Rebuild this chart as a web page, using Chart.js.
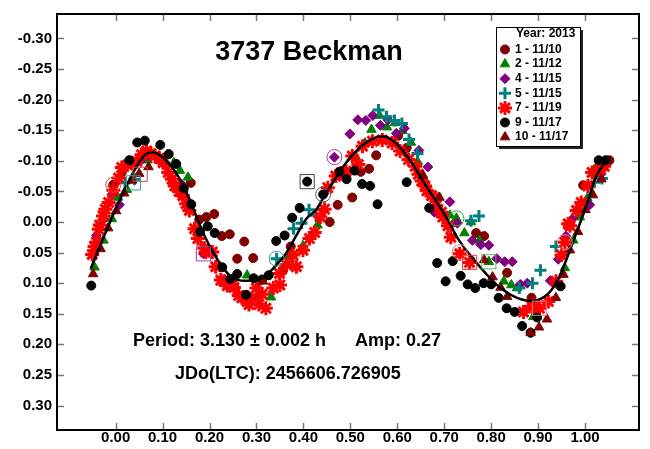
<!DOCTYPE html>
<html>
<head>
<meta charset="utf-8">
<title>3737 Beckman</title>
<script src="https://cdn.jsdelivr.net/npm/chart.js@4.4.1/dist/chart.umd.min.js"></script>
<style>
  html, body { margin: 0; padding: 0; background: #fff; }
  canvas { display: block; }
</style>
</head>
<body>
<canvas id="lc" width="650" height="449"></canvas>
<script>
// phased lightcurve, one array per observing session: [phase, magnitude]
const legendTitle = "Year: 2013";
const sessionLabels = ["1 - 11/10", "2 - 11/12", "4 - 11/15", "5 - 11/15", "7 - 11/19", "9 - 11/17", "10 - 11/17"];

const xTicks = [0.00, 0.10, 0.20, 0.30, 0.40, 0.50, 0.60, 0.70, 0.80, 0.90, 1.00];
const yTicks = [-0.30, -0.25, -0.20, -0.15, -0.10, -0.05, 0.00, 0.05, 0.10, 0.15, 0.20, 0.25, 0.30];

const session1 = [[-0.005,-0.061],[0.013,-0.081],[0.040,-0.098],[0.160,-0.064],[0.178,-0.004],[0.193,-0.008],[0.210,-0.013],
  [0.226,0.023],[0.243,0.020],[0.259,0.060],[0.274,0.032],[0.293,0.059],[0.356,0.080],[0.373,0.040],[0.456,0.000],
  [0.473,-0.028],[0.504,-0.040],[0.522,-0.082],[0.540,-0.087],[0.555,-0.109],[0.602,-0.141],[0.620,-0.121],
  [0.768,0.018],[0.785,0.023],[0.834,0.083],[0.886,0.124],[0.996,-0.060],[1.052,-0.101]];

const session2 = [[-0.045,0.074],[-0.026,0.030],[-0.008,-0.005],[0.005,-0.040],[0.024,-0.053],[0.068,-0.101],[0.103,-0.103],
  [0.124,-0.097],[0.137,-0.084],[0.154,-0.073],[0.280,0.087],[0.300,0.123],[0.331,0.123],[0.366,0.057],[0.399,0.039],
  [0.430,0.005],[0.512,-0.106],[0.531,-0.129],[0.545,-0.151],[0.562,-0.174],[0.578,-0.155],[0.595,-0.162],[0.611,-0.149],
  [0.629,-0.130],[0.644,-0.098],[0.659,-0.067],[0.712,-0.011],[0.726,-0.006],[0.743,0.018],[0.757,0.000],[0.775,0.030],
  [0.795,0.065],[0.827,0.097],[0.843,0.103],[0.855,0.108],[0.890,0.155],[0.957,0.075],[0.975,0.030],[0.989,-0.008],
  [1.005,-0.039],[1.020,-0.086]];

const session4 = [[-0.041,0.022],[-0.025,-0.005],[-0.008,-0.045],[0.008,-0.028],[0.056,-0.102],[0.073,-0.108],[0.107,-0.091],
  [0.124,-0.062],[0.140,-0.062],[0.155,-0.020],[0.187,0.052],[0.466,-0.106],[0.499,-0.144],[0.516,-0.167],[0.533,-0.166],
  [0.548,-0.174],[0.564,-0.158],[0.580,-0.167],[0.598,-0.145],[0.615,-0.153],[0.646,-0.117],[0.665,-0.090],[0.679,-0.016],
  [0.712,-0.033],[0.728,0.002],[0.760,0.030],[0.778,0.037],[0.795,0.038],[0.812,0.060],[0.829,0.065],[0.845,0.065],
  [0.862,0.102],[0.877,0.100],[0.926,0.096],[0.943,0.061],[0.959,0.023],[0.973,-0.005],[1.010,-0.028],[1.034,-0.078]];

const session5 = [[0.020,-0.064],[0.040,-0.070],[0.343,0.060],[0.379,0.011],[0.396,0.002],[0.412,-0.020],[0.427,-0.011],
  [0.560,-0.183],[0.577,-0.172],[0.594,-0.166],[0.610,-0.161],[0.625,-0.135],[0.643,-0.112],[0.680,-0.040],[0.757,-0.002],
  [0.774,-0.010],[0.860,0.108],[0.888,0.100],[0.905,0.079],[0.938,0.040],[1.020,-0.065],[1.036,-0.071]];

const session7 = [[-0.050,0.053],[-0.045,0.040],[-0.041,0.033],[-0.036,0.012],[-0.034,0.005],[-0.027,-0.010],[-0.022,-0.021],
  [-0.015,-0.032],[-0.005,-0.052],[0.006,-0.072],[0.013,-0.089],[0.025,-0.093],[0.035,-0.097],[0.045,-0.099],[0.055,-0.110],
  [0.066,-0.116],[0.075,-0.112],[0.084,-0.108],[0.093,-0.104],[0.101,-0.097],[0.112,-0.081],[0.120,-0.070],[0.126,-0.059],
  [0.135,-0.050],[0.143,-0.043],[0.150,-0.030],[0.157,-0.019],[0.168,0.011],[0.175,0.027],[0.189,0.043],[0.192,0.049],
  [0.206,0.049],[0.213,0.073],[0.224,0.095],[0.231,0.097],[0.238,0.104],[0.248,0.103],[0.252,0.107],[0.262,0.120],
  [0.269,0.124],[0.280,0.130],[0.284,0.135],[0.291,0.124],[0.300,0.108],[0.305,0.135],[0.312,0.118],[0.320,0.141],
  [0.336,0.108],[0.349,0.084],[0.350,0.103],[0.364,0.070],[0.378,0.054],[0.385,0.073],[0.399,0.046],[0.413,0.027],
  [0.424,0.017],[0.436,-0.008],[0.445,-0.021],[0.452,-0.056],[0.469,-0.075],[0.480,-0.080],[0.491,-0.083],[0.504,-0.108],
  [0.517,-0.094],[0.526,-0.124],[0.547,-0.132],[0.568,-0.134],[0.589,-0.129],[0.606,-0.116],[0.624,-0.102],[0.638,-0.091],
  [0.645,-0.078],[0.652,-0.067],[0.659,-0.059],[0.663,-0.051],[0.673,-0.043],[0.680,-0.040],[0.683,-0.027],[0.694,-0.016],
  [0.697,-0.008],[0.708,0.006],[0.714,0.025],[0.733,0.052],[0.754,0.066],[0.869,0.147],[0.887,0.138],[0.891,0.136],
  [0.903,0.141],[0.922,0.130],[0.938,0.097],[0.950,0.054],[0.957,0.033],[0.964,0.003],[0.968,0.006],[0.982,-0.019],
  [0.992,-0.032],[1.006,-0.059],[1.015,-0.081],[1.031,-0.086],[1.041,-0.091]];

const session9 = [[-0.052,0.104],[0.029,-0.101],[0.046,-0.130],[0.062,-0.133],[0.095,-0.126],[0.113,-0.111],[0.129,-0.095],
  [0.145,-0.055],[0.161,-0.029],[0.180,0.016],[0.196,0.007],[0.211,0.018],[0.227,0.074],[0.244,0.093],[0.259,0.085],
  [0.278,0.119],[0.294,0.092],[0.312,0.094],[0.326,0.087],[0.342,0.031],[0.360,0.022],[0.376,-0.007],[0.392,-0.023],
  [0.408,-0.066],[0.442,-0.045],[0.477,-0.082],[0.492,-0.070],[0.509,-0.084],[0.525,-0.062],[0.542,-0.059],[0.558,-0.029],
  [0.620,-0.065],[0.668,-0.023],[0.685,0.067],[0.703,0.097],[0.718,0.064],[0.735,0.088],[0.750,0.102],[0.766,0.108],
  [0.784,0.100],[0.800,0.102],[0.816,0.124],[0.833,0.141],[0.850,0.147],[0.866,0.170],[0.884,0.181],[0.898,0.156],
  [0.948,0.105],[1.029,-0.101],[1.044,-0.101]];

const session10 = [[-0.048,0.085],[-0.032,0.044],[-0.016,0.010],[0.001,-0.018],[0.018,-0.047],[0.035,-0.068],[0.050,-0.079],
  [0.070,-0.090],[0.314,0.097],[0.655,-0.076],[0.690,-0.040],[0.785,0.062],[0.803,0.090],[0.820,0.107],[0.834,0.122],
  [0.884,0.181],[0.902,0.172],[0.919,0.159],[0.938,0.124],[0.954,0.086],[0.968,0.046],[0.985,0.016],[1.001,-0.020],
  [1.017,-0.044],[1.035,-0.070]];

// Fourier fit
const fitCurve = [[-0.053,0.076],[-0.036,0.044],[-0.018,0.011],[0.000,-0.021],[0.020,-0.054],[0.041,-0.086],[0.063,-0.110],
  [0.080,-0.114],[0.097,-0.108],[0.115,-0.094],[0.133,-0.075],[0.154,-0.043],[0.171,-0.011],[0.189,0.022],[0.208,0.050],
  [0.227,0.073],[0.245,0.089],[0.262,0.095],[0.280,0.096],[0.296,0.095],[0.312,0.092],[0.329,0.081],[0.345,0.068],
  [0.364,0.050],[0.385,0.022],[0.406,-0.005],[0.427,-0.020],[0.448,-0.047],[0.469,-0.072],[0.491,-0.097],[0.519,-0.121],
  [0.547,-0.136],[0.570,-0.140],[0.589,-0.134],[0.610,-0.118],[0.631,-0.097],[0.652,-0.070],[0.680,-0.037],[0.708,-0.003],
  [0.730,0.028],[0.750,0.049],[0.785,0.081],[0.820,0.108],[0.855,0.124],[0.891,0.129],[0.919,0.119],[0.940,0.097],
  [0.961,0.060],[0.982,0.017],[1.003,-0.027],[1.024,-0.075],[1.044,-0.099]];

// first/last points of sessions, marked with open circles and boxes
const ringPoints = [[-0.005,-0.061],[0.343,0.060],[0.442,-0.045],[0.466,-0.106],[0.726,-0.006],[0.733,0.049],[0.957,0.033]];
const ringColors = ["#b05050", "#3a9a9a", "#555555", "#a040a0", "#40a040", "#f08080", "#f08080"];
const boxPoints = [[0.038,-0.064],[0.052,-0.078],[0.187,0.052],[0.408,-0.066],[0.754,0.066],[0.795,0.065],[0.903,0.141]];
const boxColors = ["#3a9a9a", "#b05050", "#a040a0", "#444444", "#ff3030", "#60b060", "#f08080"];

const FONT = "'Liberation Sans', Arial, sans-serif";

const styles = [
  { data: session1,  pointStyle: "circle",   pointRadius: 4.5, color: "#800000", borderWidth: 1 },
  { data: session2,  pointStyle: "triangle", pointRadius: 5.5, color: "#008000", borderWidth: 1 },
  { data: session4,  pointStyle: "rectRot",  pointRadius: 5,   color: "#800080", borderWidth: 1 },
  { data: session5,  pointStyle: "cross",    pointRadius: 6,   color: "#008080", borderWidth: 3 },
  { data: session7,  pointStyle: "star",     pointRadius: 7,   color: "#ff0000", borderWidth: 3 },
  { data: session9,  pointStyle: "circle",   pointRadius: 4.5, color: "#000000", borderWidth: 1 },
  { data: session10, pointStyle: "triangle", pointRadius: 5.5, color: "#800000", borderWidth: 1 }
];

const datasets = styles.map((s, i) => ({
  label: sessionLabels[i],
  data: s.data,
  pointStyle: s.pointStyle,
  pointRadius: s.pointRadius,
  pointBorderWidth: s.borderWidth,
  backgroundColor: s.color,
  borderColor: s.color,
  showLine: false,
  order: 20 - i
}));

datasets.push({
  label: "fit",
  data: fitCurve,
  showLine: true,
  pointRadius: 0,
  borderColor: "#000",
  borderWidth: 2.5,
  tension: 0.35,
  order: 2
});
datasets.push({
  label: "rings",
  data: ringPoints,
  pointStyle: "circle",
  pointRadius: 7.5,
  pointBorderWidth: 1,
  backgroundColor: "rgba(0,0,0,0)",
  borderColor: ringColors,
  showLine: false,
  order: 1
});
datasets.push({
  label: "boxes",
  data: boxPoints,
  pointStyle: "rect",
  pointRadius: 10,
  pointBorderWidth: 1,
  backgroundColor: "rgba(0,0,0,0)",
  borderColor: boxColors,
  showLine: false,
  order: 0
});

const decorations = {
  id: "decorations",
  afterDraw(chart) {
    const ctx = chart.ctx;
    const a = chart.chartArea;
    const xs = chart.scales.x, ys = chart.scales.y;
    ctx.save();

    // inward tick marks on all four sides
    ctx.strokeStyle = "#777";
    ctx.lineWidth = 1.5;
    ctx.beginPath();
    xTicks.forEach(v => {
      const px = Math.round(xs.getPixelForValue(v)) + 0.5;
      ctx.moveTo(px, a.bottom); ctx.lineTo(px, a.bottom - 7);
      ctx.moveTo(px, a.top); ctx.lineTo(px, a.top + 7);
    });
    yTicks.forEach(v => {
      const py = Math.round(ys.getPixelForValue(v)) + 0.5;
      ctx.moveTo(a.left, py); ctx.lineTo(a.left + 7, py);
      ctx.moveTo(a.right, py); ctx.lineTo(a.right - 7, py);
    });
    ctx.stroke();

    // frame
    ctx.strokeStyle = "#000";
    ctx.lineWidth = 2;
    ctx.strokeRect(a.left, a.top, a.right - a.left, a.bottom - a.top);

    // titles
    ctx.fillStyle = "#000";
    ctx.textBaseline = "middle";
    ctx.textAlign = "center";
    ctx.font = "bold 27px " + FONT;
    ctx.fillText("3737 Beckman", 309, 53);
    ctx.textAlign = "left";
    ctx.font = "bold 18px " + FONT;
    ctx.fillText("Period: 3.130 \u00b1 0.002 h", 133, 341);
    ctx.fillText("Amp: 0.27", 355, 341);
    ctx.fillText("JDo(LTC): 2456606.726905", 175, 374);

    // legend with drop shadow
    const L = 496, T = 27, R = 580, B = 146;
    ctx.fillStyle = "#222";
    ctx.fillRect(L + 3, T + 3, R - L, B - T);
    ctx.fillStyle = "#fff";
    ctx.fillRect(L, T, R - L, B - T);
    ctx.strokeStyle = "#000";
    ctx.lineWidth = 1;
    ctx.strokeRect(L + 0.5, T + 0.5, R - L, B - T);

    ctx.fillStyle = "#000";
    ctx.font = "bold 12px " + FONT;
    ctx.fillText(legendTitle, 516, 34);
    styles.forEach((s, i) => {
      const y = 49.5 + i * 14.6;
      ctx.fillStyle = s.color;
      ctx.strokeStyle = s.color;
      ctx.lineWidth = s.borderWidth;
      Chart.helpers.drawPoint(ctx, {
        pointStyle: s.pointStyle,
        radius: s.pointRadius,
        borderWidth: s.borderWidth,
        rotation: 0
      }, 505, y);
      ctx.fillStyle = "#000";
      ctx.fillText(sessionLabels[i], 515, y);
    });
    ctx.restore();
  }
};

const tickFont = { family: FONT, size: 15, weight: "bold" };

new Chart(document.getElementById("lc"), {
  type: "scatter",
  data: { datasets: datasets },
  options: {
    responsive: false,
    animation: false,
    events: [],
    layout: { padding: { top: 9, right: 3, left: 0, bottom: 0 } },
    plugins: { legend: { display: false }, tooltip: { enabled: false } },
    scales: {
      x: {
        type: "linear",
        min: -0.125,
        max: 1.115,
        grid: { display: false, drawTicks: false },
        border: { display: false },
        afterBuildTicks: s => { s.ticks = xTicks.map(v => ({ value: v })); },
        afterFit: s => { s.height = 19; },
        ticks: {
          color: "#000",
          font: tickFont,
          padding: -1,
          autoSkip: false,
          maxRotation: 0,
          callback: v => v.toFixed(2)
        }
      },
      y: {
        type: "linear",
        min: -0.34,
        max: 0.34,
        reverse: true,
        grid: { display: false, drawTicks: false },
        border: { display: false },
        afterBuildTicks: s => { s.ticks = yTicks.map(v => ({ value: v })); },
        afterFit: s => { s.width = 57; },
        ticks: {
          color: "#000",
          font: tickFont,
          padding: 5,
          autoSkip: false,
          callback: v => v.toFixed(2)
        }
      }
    }
  },
  plugins: [decorations]
});
</script>
</body>
</html>
